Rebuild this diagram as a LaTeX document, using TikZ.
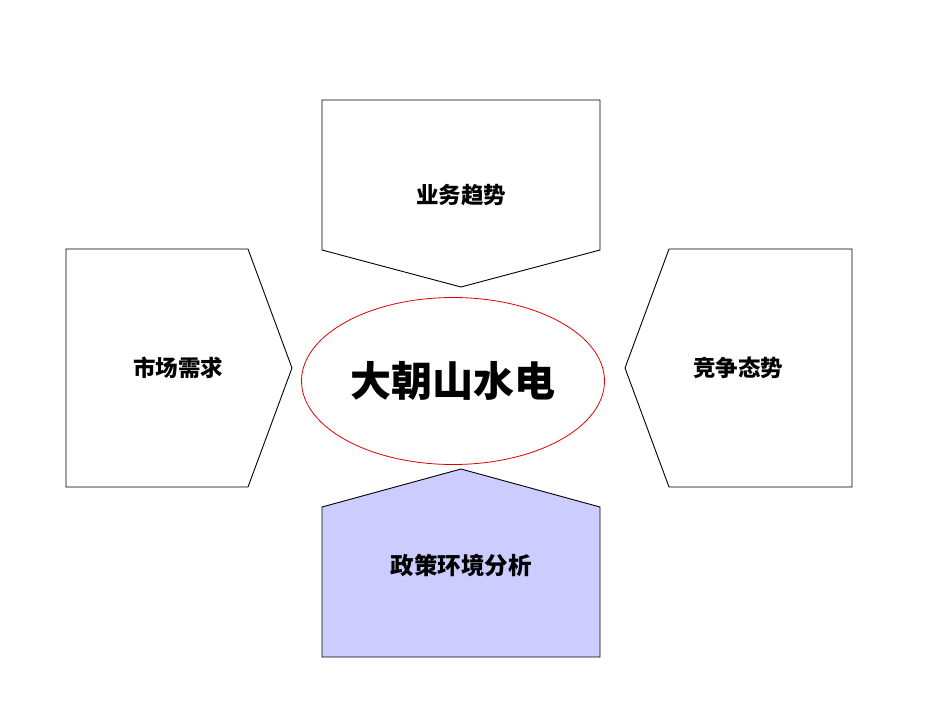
\documentclass[tikz,border=0pt]{standalone}
\usepackage{fontspec}
\usetikzlibrary{shapes.geometric}
\newfontfamily\cjk{Noto Sans CJK SC}
\definecolor{policyfill}{HTML}{CCCCFF}
\definecolor{hubred}{HTML}{E00000}
\tikzset{
  arrowbox/.style={draw=black, line width=0.9pt, line join=miter},
  sidelabel/.style={font=\cjk\bfseries\fontsize{22.5}{22.5}\selectfont, inner sep=0pt},
}

\begin{document}
\begin{tikzpicture}[x=1pt, y=-1pt]
% canvas of the reference
\useasboundingbox (0,0) rectangle (950,713);

% four pentagon arrows pointing at the centre
\draw[arrowbox] (322,100) -- (600,100) -- (600,250) -- (461,287) -- (322,250) -- cycle;
\draw[arrowbox] (66,249) -- (248,249) -- (292,368) -- (248,487) -- (66,487) -- cycle;
\draw[arrowbox] (852,249) -- (669,249) -- (625,368) -- (669,487) -- (852,487) -- cycle;
\draw[arrowbox, fill=policyfill] (322,657) -- (600,657) -- (600,507) -- (461,469) -- (322,507) -- cycle;

\node[draw=hubred, line width=0.8pt, ellipse, minimum width=303pt, minimum height=167pt,
      inner sep=0pt, font=\cjk\bfseries\fontsize{41}{41}\selectfont] (hub) at (453,381) {大朝山水电};

\node[sidelabel] (trend) at (461,195) {业务趋势};
\node[sidelabel] (market) at (178,368) {市场需求};
\node[sidelabel] (rivals) at (738,368) {竞争态势};
\node[sidelabel, font=\cjk\bfseries\fontsize{23.5}{23.5}\selectfont] (policy) at (461,565) {政策环境分析};

\end{tikzpicture}
\end{document}
